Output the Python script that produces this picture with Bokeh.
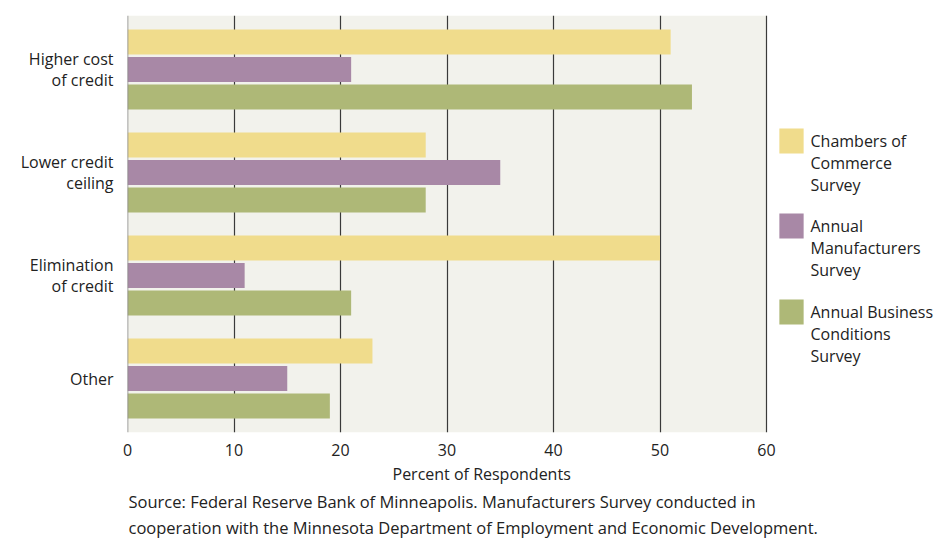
from bokeh.plotting import figure
from bokeh.models import (ColumnDataSource, Range1d, FixedTicker, Span, Label,
                          Title)
from bokeh.transform import dodge
from bokeh.embed import file_html
from bokeh.resources import INLINE

# Reasons cited for credit changes, percent of respondents
categories = ["Higher cost\nof credit", "Lower credit\nceiling",
              "Elimination\nof credit", "Other"]
chambers = [51, 28, 50, 23]
manufacturers = [21, 35, 11, 15]
business = [53, 28, 21, 19]
x_ticks = [0, 10, 20, 30, 40, 50, 60]
series_names = ["Chambers of\nCommerce\nSurvey",
                "Annual\nManufacturers\nSurvey",
                "Annual Business\nConditions\nSurvey"]
colors = ["#f0dc8c", "#a888a6", "#aeb877"]
x_title = "Percent of Respondents"
source_lines = ["Source: Federal Reserve Bank of Minneapolis. Manufacturers Survey conducted in",
                "cooperation with the Minnesota Department of Employment and Economic Development."]

FONT = "Open Sans"
TXT = "#222222"
W, H = 941, 541
LEFT, TOP, BOTTOM = 127, 15, 432
PLOT_RIGHT = 766          # pixel where the value axis reaches 60

x_lo, x_hi = x_ticks[0], x_ticks[-1]
px_per_unit = (PLOT_RIGHT - LEFT) / (x_hi - x_lo)
y_top, y_bot = -0.524, 3.524

# the frame runs to the right edge so the legend can sit inside it
p = figure(width=W, height=H, output_backend="svg", toolbar_location=None,
           x_range=Range1d(x_lo, x_lo + (W - LEFT) / px_per_unit),
           y_range=Range1d(y_bot, y_top),
           min_border_left=LEFT, min_border_right=0,
           min_border_top=TOP, min_border_bottom=H - BOTTOM)
p.background_fill_color = "white"
p.border_fill_color = "white"
p.outline_line_color = None


def sx(px):
    return x_lo + (px - LEFT) / px_per_unit


def sy(py):
    return y_top + (py - TOP) * (y_bot - y_top) / (BOTTOM - TOP)


# shaded plotting area spanning the value axis
p.quad(left=x_lo, right=x_hi, bottom=y_bot, top=y_top,
       fill_color="#f2f2ec", line_color=None, level="image")

src = ColumnDataSource(dict(pos=list(range(len(categories))),
                            chambers=chambers, manufacturers=manufacturers,
                            business=business))

for field, off, col in [("chambers", -0.267, colors[0]),
                        ("manufacturers", 0.0, colors[1]),
                        ("business", 0.267, colors[2])]:
    p.hbar(y=dodge("pos", off), left=0, right=field, height=0.243,
           source=src, fill_color=col, line_color=None)

# vertical grid behind the bars, zero line on top
p.ygrid.visible = False
p.xgrid.ticker = FixedTicker(ticks=x_ticks[1:])
p.xgrid.grid_line_color = "#3a3a3a"
p.xgrid.grid_line_width = 1.2
p.add_layout(Span(location=0, dimension="height", line_color="#8a8a8a",
                  line_width=1.6, level="overlay"))

# x axis: bare tick labels
ax = p.xaxis[0]
ax.ticker = FixedTicker(ticks=x_ticks)
ax.axis_line_color = None
ax.major_tick_line_color = None
ax.minor_tick_line_color = None
ax.major_tick_out = 0
ax.minor_tick_out = 0
ax.major_label_text_font = FONT
ax.major_label_text_font_size = "16px"
ax.major_label_text_color = TXT
ax.major_label_standoff = 11

# y axis: category names
ay = p.yaxis[0]
ay.ticker = FixedTicker(ticks=list(range(len(categories))))
ay.major_label_overrides = {i: c for i, c in enumerate(categories)}
ay.axis_line_color = None
ay.major_tick_line_color = None
ay.minor_tick_line_color = None
ay.major_tick_out = 0
ay.minor_tick_out = 0
ay.major_label_text_font = FONT
ay.major_label_text_font_size = "16px"
ay.major_label_text_color = TXT
ay.major_label_text_align = "right"
ay.major_label_text_line_height = 0.99
ay.major_label_standoff = 14

# legend: swatch plus three-line caption
for name, col, cy in zip(series_names, colors, [140.5, 225.5, 311.5]):
    p.add_layout(Label(x=sx(791), y=sy(cy), text="\u00a0",
                       text_font_size="1px", text_align="center",
                       text_baseline="middle", background_fill_color=col,
                       padding=12))
    p.add_layout(Label(x=sx(810), y=sy(cy + 22), text=name,
                       text_align="left", text_baseline="middle",
                       text_font=FONT, text_font_size="16px",
                       text_color=TXT, text_line_height=0.99))

# axis title and source note beneath the axis
p.add_layout(Title(text=x_title, align="left", offset=265, text_font=FONT,
                   text_font_size="16px", text_font_style="normal",
                   text_color=TXT, standoff=4), "below")
for line, gap in zip(source_lines, [2, 0]):
    p.add_layout(Title(text=line, align="left", offset=1, text_font=FONT,
                       text_font_size="16.5px", text_font_style="normal",
                       text_color=TXT, standoff=gap), "below")

open("out.html", "w").write(file_html(p, INLINE))
